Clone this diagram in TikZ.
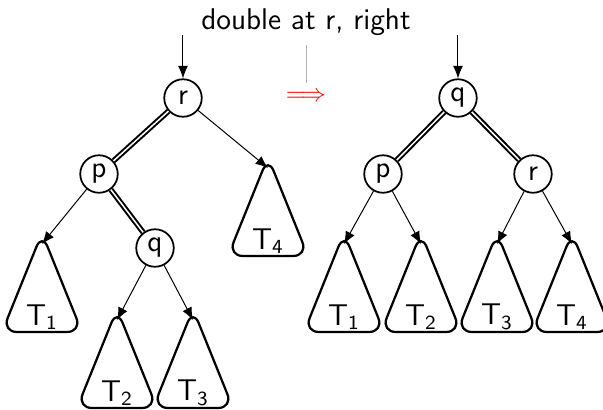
\documentclass[tikz,border=0pt]{standalone}
\usetikzlibrary{arrows.meta}
\newcommand\subtree[4]{%
  \coordinate (#1) at (#2,#3);
  \draw[tri] (#2,#3-11) -- (#2-40,#3+88) -- (#2+40,#3+88) -- cycle;
  \node (#1l) at (#2,#3+73) {T\textsubscript{#4}};
}
\begin{document}
\begin{tikzpicture}[x=0.4pt,y=-0.4pt,
  font=\fontsize{12}{14}\selectfont\sffamily,
  vert/.style={circle,draw,line width=0.7pt,minimum size=15pt,inner sep=0pt},
  edge/.style={line width=0.4pt,-{Latex[length=5pt,width=4pt]}},
  heavy/.style={double,double distance=0.6pt,line width=0.8pt},
  tri/.style={line width=0.9pt,rounded corners=6pt,line join=round}]
\useasboundingbox (0,0) rectangle (603,409);
% title and transformation arrow
\node (title) at (306,22) {double at r, right};
\node[text=red,font=\fontsize{10}{12}\selectfont] (arr) at (306,97) {$\Longrightarrow$};
\coordinate (g1) at (307,45);
\coordinate (g2) at (307,83);
\draw[gray!60,line width=0.4pt] (g1) -- (g2);
% left tree
\node[vert] (lr) at (183,98) {r};
\node[vert] (lp) at (99,174) {p};
\node[vert] (lq) at (155,248) {q};
\coordinate (lin) at (183,35);
\subtree{lt1}{42}{244}{1}
\subtree{lt2}{117}{320}{2}
\subtree{lt3}{193}{320}{3}
\subtree{lt4}{268}{168}{4}
\draw[edge] (lin) -- (lr);
\draw[heavy] (lr) -- (lp);
\draw[heavy] (lp) -- (lq);
\draw[edge] (lr) -- (lt4);
\draw[edge] (lp) -- (lt1);
\draw[edge] (lq) -- (lt2);
\draw[edge] (lq) -- (lt3);
% right tree
\node[vert] (rq) at (458,98) {q};
\node[vert] (rp) at (383,174) {p};
\node[vert] (rr) at (533,174) {r};
\coordinate (rin) at (458,35);
\subtree{rt1}{344}{244}{1}
\subtree{rt2}{421}{244}{2}
\subtree{rt3}{497}{244}{3}
\subtree{rt4}{572}{244}{4}
\draw[edge] (rin) -- (rq);
\draw[heavy] (rq) -- (rp);
\draw[heavy] (rq) -- (rr);
\draw[edge] (rp) -- (rt1);
\draw[edge] (rp) -- (rt2);
\draw[edge] (rr) -- (rt3);
\draw[edge] (rr) -- (rt4);
\end{tikzpicture}
\end{document}
